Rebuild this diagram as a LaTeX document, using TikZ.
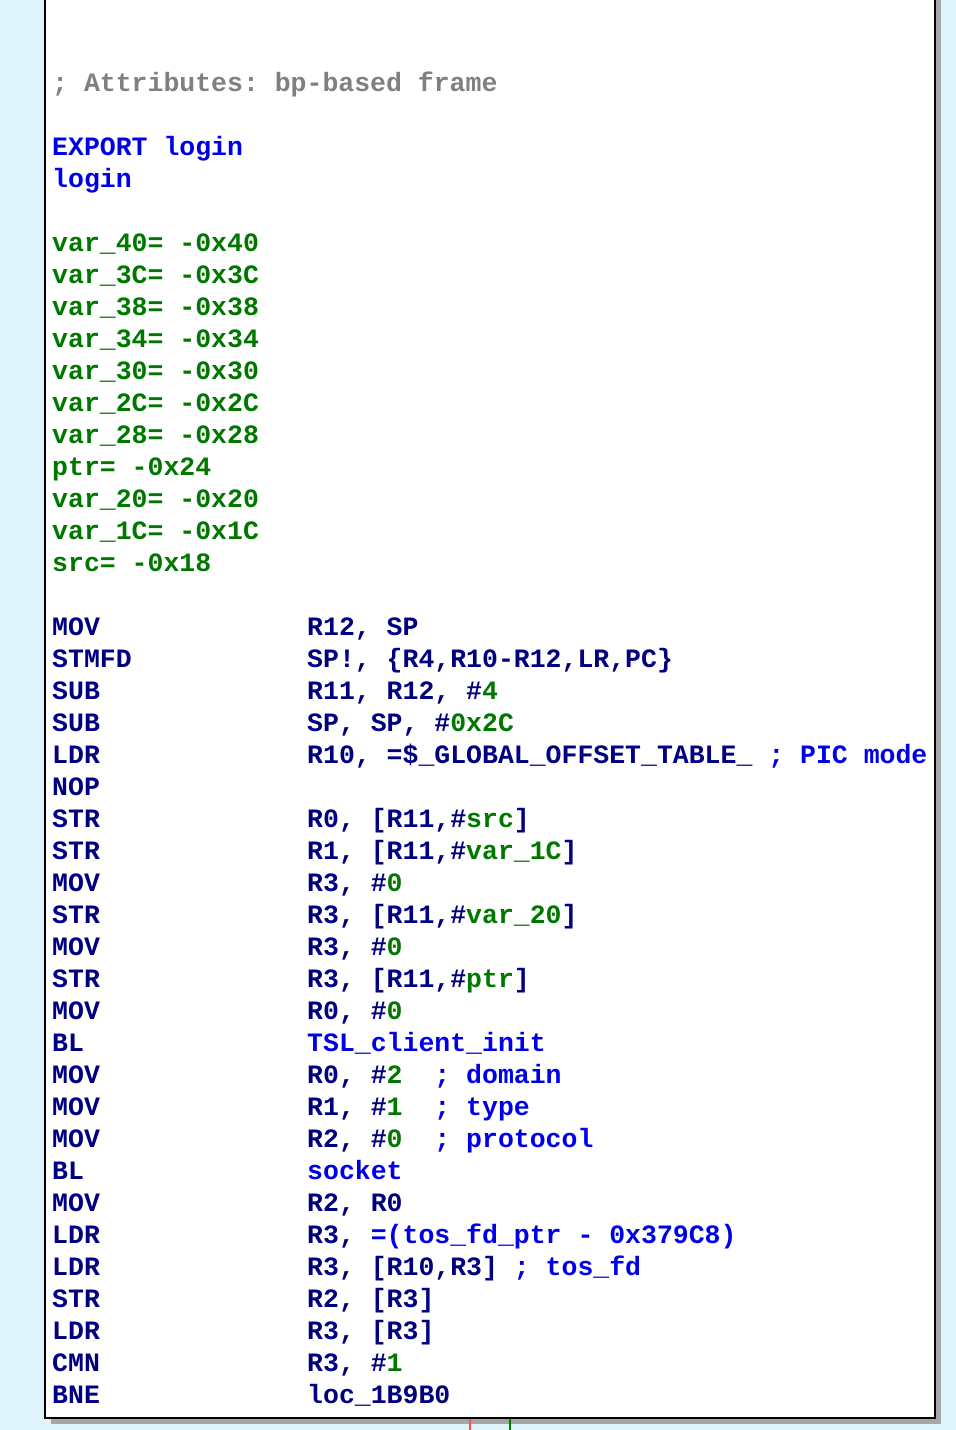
\documentclass[tikz,border=0pt]{standalone}
\usepackage{fontspec}
\setmonofont{Liberation Mono}
\definecolor{idabg}{RGB}{222,244,250}
\definecolor{idanavy}{RGB}{0,0,128}
\definecolor{idablue}{RGB}{0,0,230}
\definecolor{idagreen}{RGB}{0,120,0}
\definecolor{idagray}{RGB}{128,128,128}
\newcommand{\bl}[1]{\textcolor{idablue}{#1}}
\newcommand{\gr}[1]{\textcolor{idagreen}{#1}}
\tikzset{asm/.style={anchor=base west, inner sep=0pt, font=\ttfamily\bfseries\fontsize{26.5}{30}\selectfont, text=idanavy}}
\begin{document}
\begin{tikzpicture}[x=1pt,y=-1pt]
\useasboundingbox (0,0) rectangle (956,1430);
\fill[idabg] (0,0) rectangle (956,1430);

% the block and its shadow
\fill[black!35] (51,-10) rectangle (941,1424);
\fill[white, draw=black, line width=2pt] (45,-10) rectangle (935,1418);

% edges leaving the block
\draw[red!70, line width=2pt] (470,1419) -- (470,1430);
\draw[green!50!black, line width=2pt] (510,1419) -- (510,1430);

% header
\node[asm, text=idagray] (attr) at (52,91) {; Attributes: bp-based frame};
\node[asm, text=idablue] (export) at (52,155) {EXPORT login};
\node[asm, text=idablue] (fname) at (52,187) {login};

% stack variables
\foreach \v [count=\i from 0] in {var\_40= -0x40, var\_3C= -0x3C, var\_38= -0x38,
    var\_34= -0x34, var\_30= -0x30, var\_2C= -0x2C, var\_28= -0x28, ptr= -0x24,
    var\_20= -0x20, var\_1C= -0x1C, src= -0x18}
  \node[asm, text=idagreen] (var\i) at (52,251+32*\i) {\v};

% instructions
\foreach \mn/\op [count=\i from 0] in {
    MOV/{R12, SP},
    STMFD/{SP!, \{R4,R10-R12,LR,PC\}},
    SUB/{R11, R12, \#\gr{4}},
    SUB/{SP, SP, \#\gr{0x2C}},
    LDR/{R10, =\$\_GLOBAL\_OFFSET\_TABLE\_ \bl{; PIC mode}},
    NOP/{},
    STR/{R0, [R11,\#\gr{src}]},
    STR/{R1, [R11,\#\gr{var\_1C}]},
    MOV/{R3, \#\gr{0}},
    STR/{R3, [R11,\#\gr{var\_20}]},
    MOV/{R3, \#\gr{0}},
    STR/{R3, [R11,\#\gr{ptr}]},
    MOV/{R0, \#\gr{0}},
    BL/{\bl{TSL\_client\_init}},
    MOV/{R0, \#\gr{2}\ \ \bl{; domain}},
    MOV/{R1, \#\gr{1}\ \ \bl{; type}},
    MOV/{R2, \#\gr{0}\ \ \bl{; protocol}},
    BL/{\bl{socket}},
    MOV/{R2, R0},
    LDR/{R3, \bl{=(tos\_fd\_ptr - 0x379C8)}},
    LDR/{R3, [R10,R3] \bl{; tos\_fd}},
    STR/{R2, [R3]},
    LDR/{R3, [R3]},
    CMN/{R3, \#\gr{1}},
    BNE/{loc\_1B9B0}} {
  \node[asm] (mn\i) at (52,635+32*\i) {\mn};
  \node[asm] (op\i) at (307,635+32*\i) {\op};
}
\end{tikzpicture}
\end{document}
